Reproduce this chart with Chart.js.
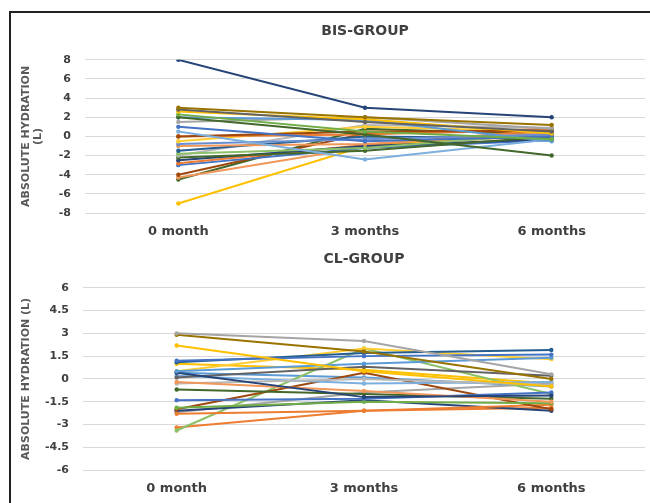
<!DOCTYPE html>
<html>
<head>
<meta charset="utf-8">
<script src="https://cdn.jsdelivr.net/npm/chart.js@4"></script>
<style>
  html, body { margin: 0; padding: 0; background: #fff; }
  body { width: 650px; height: 503px; position: relative; overflow: hidden; }
  #frame { position: absolute; left: 9px; top: 11px; right: 0; bottom: 0; border-top: 2px solid #222; border-left: 2px solid #222; }
  .box { position: absolute; left: 11px; width: 639px; }
  #top { top: 13px; height: 235px; }
  #bottom { top: 248px; height: 255px; }
</style>
</head>
<body>
<div id="frame"></div>
<div class="box" id="top"><canvas id="bisChart"></canvas></div>
<div class="box" id="bottom"><canvas id="clChart"></canvas></div>
<script>
// time points on the x axis
var months = ["0 month", "3 months", "6 months"];

// BIS-group, one line per patient: [0 month, 3 months, 6 months]
var bisSeries = [
    [8, 3, 2],
    [3, 2, 1.2],
    [2.8, 1.5, 0.5],
    [2.6, 1.8, 0.3],
    [2.3, 0.5, -0.3],
    [2.0, 0.2, -2],
    [2.0, 1.7, -0.5],
    [1.5, 2, 0.8],
    [1, -0.5, 0],
    [0.5, -2.4, -0.3],
    [0, 0.5, 0.6],
    [0, 0.2, 0.8],
    [-0.5, 1.0, 0.5],
    [-0.8, -0.3, 0.2],
    [-1, -0.8, 0.4],
    [-1.5, 0, -0.2],
    [-1.8, -1.2, 0.3],
    [-2, 1.2, 0.9],
    [-2.2, -1.5, 0],
    [-2.5, -1, -0.3],
    [-2.8, -0.9, 0.7],
    [-3, -1.2, -0.4],
    [-4, 0.3, 0.6],
    [-4.3, -1.1, 0.2],
    [-4.5, 0.8, 0.2],
    [-7, -1, 0.3]
];
var bisColors = [
    "#264478", "#997300", "#636363", "#FFC000", "#70AD47", "#43682B",
    "#5B9BD5", "#A5A5A5", "#4472C4", "#7CAFDD", "#9E480E", "#ED7D31",
    "#FFCD33", "#698ED0", "#F1975A", "#255E91", "#8CC168", "#B7B7B7",
    "#43682B", "#264478", "#ED7D31", "#4472C4", "#9E480E", "#F1975A",
    "#43682B", "#FFC000"
];

// CL-group
var clSeries = [
    [3.0, 2.5, 0.3],
    [2.9, 1.8, 0.0],
    [2.2, 0.5, -0.5],
    [1.2, 1.5, 1.6],
    [1.1, 1.7, 1.9],
    [0.5, 1.0, 1.4],
    [0.4, -1.2, -1.1],
    [0.5, 2.0, 1.3],
    [0.1, 0.8, 0.2],
    [-0.2, -0.8, -1.5],
    [-0.3, 0, -0.4],
    [-0.7, -1, -1.3],
    [0.2, -0.3, -0.2],
    [-1.4, -1.3, -0.9],
    [-1.9, -1.5, -1.6],
    [-2.0, 0.4, -2.0],
    [-2.3, -2.1, -1.7],
    [-2.1, -1.4, -2.1],
    [-3.4, 2.0, -1.0],
    [-3.2, -2.1, -1.9],
    [-2.2, -0.9, -0.3],
    [0.4, 0.1, -0.5],
    [1.0, 0.6, -0.3]
];
var clColors = [
    "#A5A5A5", "#997300", "#FFC000", "#4472C4", "#255E91", "#5B9BD5",
    "#264478", "#FFCD33", "#636363", "#F1975A", "#B7B7B7", "#43682B",
    "#7CAFDD", "#4472C4", "#70AD47", "#9E480E", "#ED7D31", "#264478",
    "#8CC168", "#ED7D31", "#A5A5A5", "#5B9BD5", "#FFC000"
];

var FONT = "'DejaVu Sans', sans-serif";

function buildDatasets(series, colors) {
    var sets = [];
    for (var i = 0; i < series.length; i++) {
        sets.push({
            data: series[i],
            borderColor: colors[i],
            backgroundColor: colors[i],
            borderWidth: 2,
            pointRadius: 2.2,
            pointBorderWidth: 0,
            tension: 0
        });
    }
    return sets;
}

function makeChart(id, title, series, colors, yMin, yMax, yStep, yTitle, yWidth, xHeight, titlePad) {
    var ctx = document.getElementById(id).getContext("2d");
    return new Chart(ctx, {
        type: "line",
        data: {
            labels: months,
            datasets: buildDatasets(series, colors)
        },
        options: {
            responsive: true,
            maintainAspectRatio: false,
            animation: false,
            layout: { padding: { right: 5, left: 9 } },
            plugins: {
                legend: { display: false },
                tooltip: { enabled: false },
                title: {
                    display: true,
                    text: title,
                    fullSize: false,
                    color: "#404040",
                    font: { family: FONT, size: 14, weight: "bold" },
                    padding: titlePad
                }
            },
            scales: {
                x: {
                    offset: true,
                    grid: { display: false },
                    border: { display: false },
                    afterFit: function (scale) { scale.height = xHeight; },
                    ticks: {
                        color: "#404040",
                        padding: 3,
                        font: { family: FONT, size: 13, weight: "bold" }
                    }
                },
                y: {
                    min: yMin,
                    max: yMax,
                    grid: { color: "#d9d9d9", drawTicks: false, lineWidth: 1 },
                    border: { display: false },
                    afterFit: function (scale) { scale.width = yWidth; },
                    ticks: {
                        stepSize: yStep,
                        padding: 14,
                        color: "#404040",
                        font: { family: FONT, size: 11, weight: "bold" }
                    },
                    title: {
                        display: true,
                        text: yTitle,
                        color: "#595959",
                        padding: 0,
                        font: { family: FONT, size: 11, weight: "bold", lineHeight: 1.1 }
                    }
                }
            }
        }
    });
}

makeChart("bisChart", "BIS-GROUP", bisSeries, bisColors, -8, 8, 2,
    ["ABSOLUTE HYDRATION", "(L)"], 65, 35, { top: 10, bottom: 20 });
makeChart("clChart", "CL-GROUP", clSeries, clColors, -6, 6, 1.5,
    "ABSOLUTE HYDRATION (L)", 63, 33, { top: 3, bottom: 20 });
</script>
</body>
</html>
